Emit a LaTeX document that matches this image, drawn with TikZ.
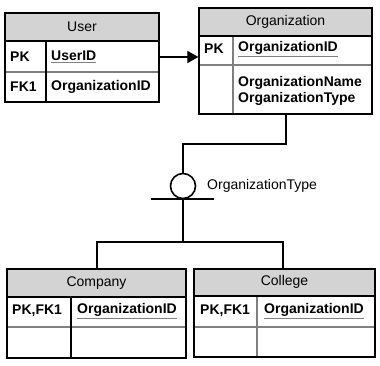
\documentclass[tikz,border=0pt]{standalone}
\usepackage{fontspec}
\setmainfont{Liberation Sans}
\usetikzlibrary{arrows.meta}
\definecolor{hdr}{HTML}{D3D3D3}
\definecolor{sep}{HTML}{7F7F7F}
\newcommand\pkul[1]{{\color{sep}\underline{\color{black}#1}}}
\tikzset{
  tbl/.style={draw=black, line width=1.2pt, rectangle, inner sep=0pt},
  hdrtxt/.style={font=\fontsize{14}{16}\selectfont, inner sep=0pt},
  fld/.style={font=\fontsize{14}{16}\selectfont\bfseries, inner sep=0pt, anchor=west},
  rowsep/.style={draw=sep, line width=1.3pt},
  colsep/.style={line width=1.2pt},
  conn/.style={line width=1.6pt}
}
\begin{document}
\begin{tikzpicture}[x=1pt,y=-1pt]
\useasboundingbox (0,0) rectangle (380,366);
% ---- User
\fill[hdr] (5,13) rectangle (159,41);
\draw[rowsep] (5,72) -- (159,72);
\draw[colsep] (46,41) -- (46,102);
\draw[line width=1.2pt] (5,41) -- (159,41);
\node[tbl, minimum width=154pt, minimum height=89pt] (user) at (82,57.5) {};
\node[hdrtxt] (usert) at (82,27) {User};
\node[fld] (userpk) at (10,57) {PK};
\node[fld] (userid) at (51,57) {\pkul{UserID}};
\node[fld] (userfk) at (10,87) {FK1};
\node[fld] (userorg) at (51,87) {OrganizationID};
% ---- Organization
\fill[hdr] (199,8) rectangle (372,36);
\draw[rowsep] (199,65) -- (372,65);
\draw[colsep, draw=sep] (233,36) -- (233,114);
\draw[line width=1.2pt] (199,36) -- (372,36);
\node[tbl, minimum width=173pt, minimum height=106pt] (org) at (285.5,61) {};
\node[hdrtxt] (orgt) at (285.5,22) {Organization};
\node[fld] (orgpk) at (204,49) {PK};
\node[fld] (orgid) at (238,49) {\pkul{OrganizationID}};
\node[fld] (orgname) at (238,83) {OrganizationName};
\node[fld] (orgtype) at (238,99) {OrganizationType};
% ---- Company
\fill[hdr] (7,269) rectangle (186,297);
\draw[rowsep] (7,327) -- (186,327);
\draw[colsep] (71,297) -- (71,358);
\draw[line width=1.2pt] (7,297) -- (186,297);
\node[tbl, minimum width=179pt, minimum height=89pt] (comp) at (96.5,313.5) {};
\node[hdrtxt] (compt) at (96.5,283) {Company};
\node[fld] (comppk) at (12,311) {PK,FK1};
\node[fld] (compid) at (77,311) {\pkul{OrganizationID}};
% ---- College
\fill[hdr] (194,269) rectangle (375,296);
\draw[rowsep] (194,327) -- (375,327);
\draw[colsep, draw=sep] (257,296) -- (257,357);
\draw[line width=1.2pt] (194,296) -- (375,296);
\node[tbl, minimum width=181pt, minimum height=88pt] (coll) at (284.5,313) {};
\node[hdrtxt] (collt) at (284.5,282) {College};
\node[fld] (collpk) at (200,311) {PK,FK1};
\node[fld] (collid) at (264,311) {\pkul{OrganizationID}};
% ---- connectors
\draw[conn, -{Triangle[length=11pt,width=12pt]}] (user.east |- userid) -- (org.west |- userid);
\node[draw, circle, line width=1.6pt, minimum size=25pt, inner sep=0pt] (disc) at (183,186) {};
\node[font=\fontsize{14}{16}\selectfont, anchor=west, inner sep=0pt] (disclbl) at (207,186) {OrganizationType};
\coordinate (orgbot) at (286,114);
\coordinate (turn) at (286,144);
\coordinate (barl) at (151,199);
\coordinate (barr) at (214,199);
\coordinate (barc) at (183,199);
\coordinate (junc) at (183,242);
\draw[conn] (orgbot) -- (turn) -| (disc.north);
\draw[conn] (barl) -- (barr);
\draw[conn] (disc.south) -- (junc);
\draw[conn] (comp.north -| 97,0) |- (junc) -| (coll.north -| 283,0);
\end{tikzpicture}
\end{document}
